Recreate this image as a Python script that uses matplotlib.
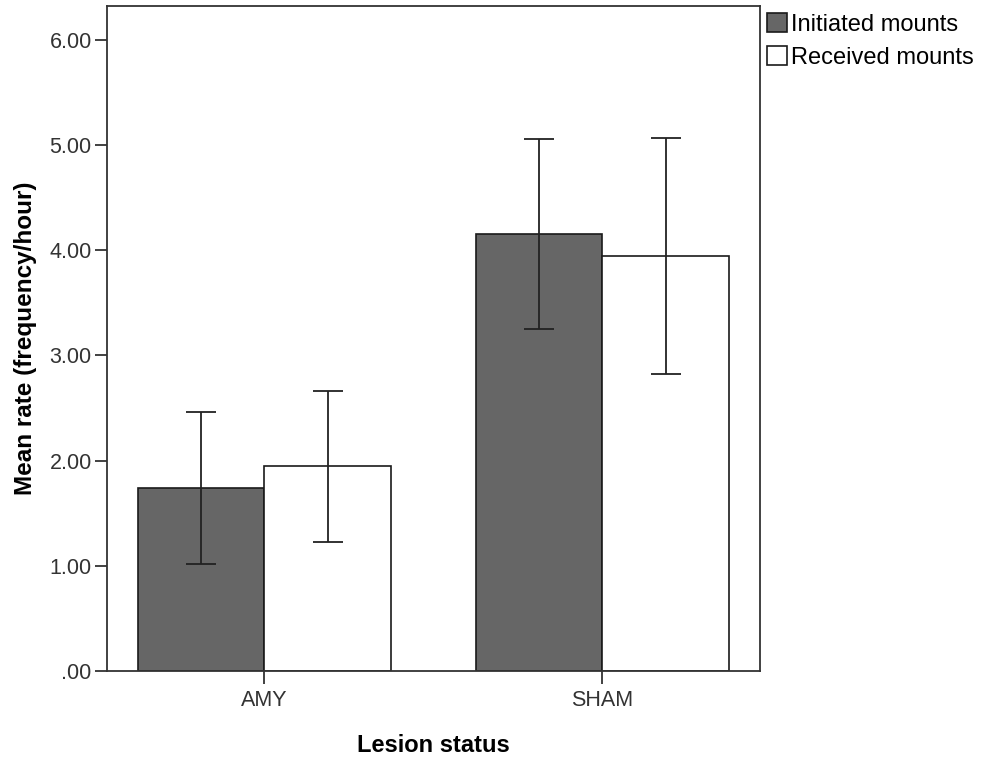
import numpy as np
import matplotlib.pyplot as plt
from matplotlib.ticker import FuncFormatter

plt.rcParams['font.family'] = ['Liberation Sans', 'DejaVu Sans']

# Data
groups = ['AMY', 'SHAM']
series = ['Initiated mounts', 'Received mounts']
initiated = [1.74, 4.15]
initiated_lo = [1.02, 3.25]
initiated_hi = [2.46, 5.06]
received = [1.95, 3.94]
received_lo = [1.23, 2.82]
received_hi = [2.66, 5.07]

fig = plt.figure(figsize=(9.87, 7.59), dpi=100)
ax = fig.add_axes([0.1084, 0.1159, 0.6616, 0.8762])

x = np.arange(len(groups))
w = 0.373
err_kw = dict(ecolor='#222222', elinewidth=1.3, capsize=11, capthick=1.3)

ini = np.array(initiated)
rec = np.array(received)
ini_err = [ini - np.array(initiated_lo), np.array(initiated_hi) - ini]
rec_err = [rec - np.array(received_lo), np.array(received_hi) - rec]

ax.bar(x - w / 2, ini, w, color='#666666', edgecolor='#1a1a1a', linewidth=1.2,
       yerr=ini_err, error_kw=err_kw, label=series[0])
ax.bar(x + w / 2, rec, w, color='white', edgecolor='#1a1a1a', linewidth=1.2,
       yerr=rec_err, error_kw=err_kw, label=series[1])

ax.set_xlim(-0.466, 1.466)
ax.set_ylim(0, 6.32)
ax.set_xticks(x)
ax.set_xticklabels(groups)
ax.set_yticks(np.arange(0, 7, 1.0))
ax.yaxis.set_major_formatter(FuncFormatter(lambda v, p: '.00' if v == 0 else f'{v:.2f}'))

for s in ax.spines.values():
    s.set_color('#333333')
    s.set_linewidth(1.3)
ax.tick_params(axis='both', direction='out', length=9, width=1.3, color='#333333',
               labelsize=15.5, labelcolor='#333333', pad=2)
ax.tick_params(axis='x', pad=5)

ax.set_xlabel('Lesion status', fontsize=17, fontweight='bold', labelpad=16)
ax.set_ylabel('Mean rate (frequency/hour)', fontsize=17.5, fontweight='bold', labelpad=9)

ax.legend(loc='upper left', bbox_to_anchor=(1.0, 1.0), frameon=False, fontsize=17,
          handlelength=0.85, handleheight=0.85, handletextpad=0.15, labelspacing=0.45,
          borderaxespad=0.2, borderpad=0.1)

fig.savefig('out.png', dpi=100)
